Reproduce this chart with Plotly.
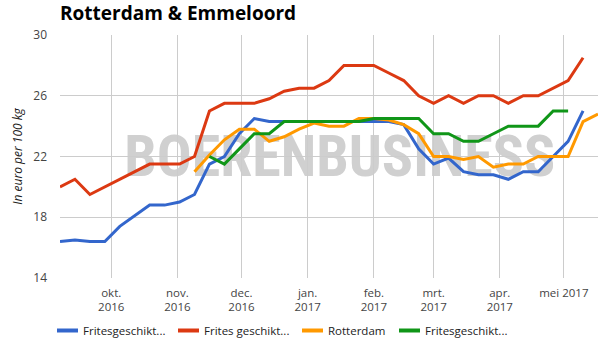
import plotly.graph_objects as go

# Weekly price observations (Wednesdays), euro per 100 kg
weeks = [
    "2016-09-07", "2016-09-14", "2016-09-21", "2016-09-28", "2016-10-05",
    "2016-10-12", "2016-10-19", "2016-10-26", "2016-11-02", "2016-11-09",
    "2016-11-16", "2016-11-23", "2016-11-30", "2016-12-07", "2016-12-14",
    "2016-12-21", "2016-12-28", "2017-01-04", "2017-01-11", "2017-01-18",
    "2017-01-25", "2017-02-01", "2017-02-08", "2017-02-15", "2017-02-22",
    "2017-03-01", "2017-03-08", "2017-03-15", "2017-03-22", "2017-03-29",
    "2017-04-05", "2017-04-12", "2017-04-19", "2017-04-26", "2017-05-03",
    "2017-05-10", "2017-05-17",
]

series_names = ["Fritesgeschikt...", "Frites geschikt...", "Rotterdam", "Fritesgeschikt..."]
series_colors = ["#3366cc", "#dc3912", "#ff9900", "#109618"]

blue = [16.4, 16.5, 16.4, 16.4, 17.4, 18.1, 18.8, 18.8, 19.0, 19.5,
        21.5, 22.0, 23.5, 24.5, 24.3, 24.3, 24.3, 24.3, 24.3, 24.3,
        24.3, 24.3, 24.3, 24.1, 22.5, 21.5, 21.9, 21.0, 20.8, 20.8,
        20.5, 21.0, 21.0, 22.0, 23.0, 25.0, None]
red = [20.0, 20.5, 19.5, 20.0, 20.5, 21.0, 21.5, 21.5, 21.5, 22.0,
       25.0, 25.5, 25.5, 25.5, 25.8, 26.3, 26.5, 26.5, 27.0, 28.0,
       28.0, 28.0, 27.5, 27.0, 26.0, 25.5, 26.0, 25.5, 26.0, 26.0,
       25.5, 26.0, 26.0, 26.5, 27.0, 28.5, None]
orange = [None, None, None, None, None, None, None, None, None, 21.0,
          22.1, 23.1, 23.8, 23.8, 23.0, 23.3, 23.8, 24.2, 24.0, 24.0,
          24.5, 24.5, 24.4, 24.1, 23.5, 22.0, 22.0, 21.8, 22.0, 21.3,
          21.5, 21.5, 22.0, 22.0, 22.0, 24.3, 24.8]
green = [None, None, None, None, None, None, None, None, None, None,
         22.0, 21.5, 22.5, 23.5, 23.5, 24.3, 24.3, 24.3, 24.3, 24.3,
         24.3, 24.5, 24.5, 24.5, 24.5, 23.5, 23.5, 23.0, 23.0, 23.5,
         24.0, 24.0, 24.0, 25.0, 25.0, None, None]

month_ticks = ["2016-10-01", "2016-11-01", "2016-12-01", "2017-01-01",
               "2017-02-01", "2017-03-01", "2017-04-01", "2017-05-01"]
month_labels = ["okt.<br>2016", "nov.<br>2016", "dec.<br>2016", "jan.<br>2017",
                "feb.<br>2017", "mrt.<br>2017", "apr.<br>2017", "mei 2017"]
y_ticks = [14, 18, 22, 26, 30]

W, H = 615, 350
M_L, M_R, M_T, M_B = 60, 17, 35, 72
PLOT_W = W - M_L - M_R
PLOT_H = H - M_T - M_B


def px_to_paper_x(px):
    return (px - M_L) / PLOT_W


def px_to_paper_y(py):
    return (H - M_B - py) / PLOT_H


fig = go.Figure()
for name, color, values in zip(series_names, series_colors, [blue, red, orange, green]):
    fig.add_trace(go.Scatter(
        x=weeks, y=values, name=name, mode="lines",
        line=dict(color=color, width=3),
        connectgaps=False, showlegend=False,
    ))

# Brand watermark behind the lines
fig.add_shape(
    type="rect", xref="paper", yref="paper",
    x0=0.105, x1=0.935, y0=0.41, y1=0.63,
    line=dict(width=0), fillcolor="rgba(0,0,0,0)",
    layer="between",
    label=dict(
        text="<b>BOERENBUSINESS</b>",
        textposition="middle center",
        font=dict(family="Liberation Sans Narrow, Roboto Condensed, Liberation Sans",
                  size=58, color="#d0d0d0"),
    ),
)

# Legend row below the axis: short swatch + label per series
legend_swatch_x = [57, 178, 302, 399]
legend_y = 330.5
for name, color, sx in zip(series_names, series_colors, legend_swatch_x):
    fig.add_shape(
        type="line", xref="paper", yref="paper",
        x0=px_to_paper_x(sx), x1=px_to_paper_x(sx + 21),
        y0=px_to_paper_y(legend_y), y1=px_to_paper_y(legend_y),
        line=dict(color=color, width=4),
    )
    fig.add_annotation(
        xref="paper", yref="paper",
        x=px_to_paper_x(sx + 24), y=px_to_paper_y(legend_y),
        xanchor="left", yanchor="middle", showarrow=False,
        text=name,
        font=dict(family="Open Sans", size=11.5, color="#222"),
    )

fig.update_layout(
    width=W, height=H, autosize=False,
    margin=dict(l=M_L, r=M_R, t=M_T, b=M_B),
    paper_bgcolor="white", plot_bgcolor="white",
    font=dict(family="Open Sans", size=12, color="#444"),
    title=dict(
        text="<b>Rotterdam &amp; Emmeloord</b>",
        font=dict(family="Open Sans", size=19, color="#000"),
        xref="container", yref="container",
        x=M_L / W, xanchor="left",
        y=1 - 13.5 / H, yanchor="middle",
    ),
    showlegend=False,
    xaxis=dict(
        type="date", range=[weeks[0], weeks[-1]],
        tickvals=month_ticks, ticktext=month_labels,
        showgrid=True, gridcolor="#cccccc", gridwidth=1,
        zeroline=False, showline=False, ticks="",
        tickfont=dict(family="Open Sans", size=11.5, color="#444"),
        ticklabelstandoff=6,
    ),
    yaxis=dict(
        range=[14, 30], tickvals=y_ticks,
        showgrid=True, gridcolor="#cccccc", gridwidth=1,
        zeroline=False, showline=False, ticks="",
        tickfont=dict(family="Open Sans", size=12, color="#444"),
        ticklabelstandoff=12,
        title=dict(
            text="In euro per 100 kg",
            font=dict(family="Open Sans", size=12, color="#222", style="italic"),
            standoff=8,
        ),
    ),
)

fig.write_html("out.html")
